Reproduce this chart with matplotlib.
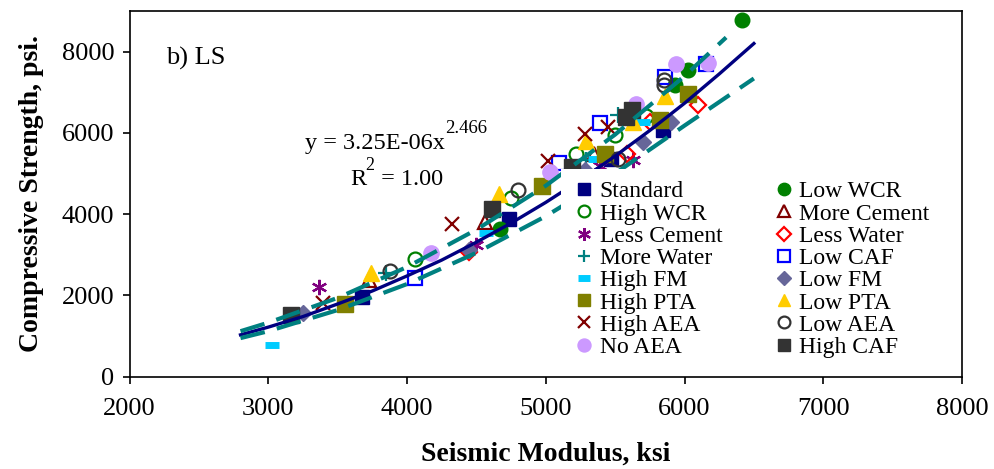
import matplotlib
matplotlib.use("Agg")
import matplotlib.pyplot as plt

plt.rcParams['font.family'] = ['Liberation Serif', 'DejaVu Serif']

# power-law fit and the dashed bounds
fit_x = [2800, 3000, 3250, 3500, 3750, 4000, 4250, 4500, 4750, 5000, 5250, 5500, 5750, 6000, 6250, 6500]
fit_y = [1030, 1220, 1480, 1790, 2110, 2480, 2870, 3310, 3780, 4290, 4840, 5430, 6060, 6730, 7450, 8200]
upper_x = [2800, 3000, 3500, 4000, 4500, 5000, 5500, 6000, 6300]
upper_y = [1120, 1330, 1940, 2700, 3620, 4700, 5960, 7400, 8350]
lower_x = [2800, 3000, 3500, 4000, 4500, 5000, 5500, 6000, 6500]
lower_y = [950, 1120, 1640, 2280, 3050, 3950, 5000, 6180, 7340]

# mixes (seismic modulus ksi, compressive strength psi)
standard_x = [3679, 4735, 5472, 5848]
standard_y = [1966, 3875, 5366, 6078]
low_wcr_x = [4673, 5935, 6023, 6412]
low_wcr_y = [3646, 7167, 7553, 8789]
high_wcr_x = [4056, 4747, 5220, 5496, 5719]
high_wcr_y = [2892, 4408, 5472, 5939, 6405]
more_cement_x = [3727, 4562, 5350]
more_cement_y = [2376, 3818, 5480]
less_cement_x = [3367, 4495, 5388, 5632]
less_cement_y = [2211, 3236, 5177, 5324]
less_water_x = [4447, 5584, 5748, 6100]
less_water_y = [3071, 5489, 6265, 6676]
more_water_x = [3850, 5292, 5519]
more_water_y = [2540, 5341, 6430]
low_caf_x = [4056, 5092, 5392, 5863, 6156]
low_caf_y = [2418, 5258, 6241, 7371, 7700]
high_fm_x = [3028, 4572, 5352, 5699]
high_fm_y = [779, 3548, 5349, 6265]
low_fm_x = [3251, 4447, 5280, 5699, 5904]
low_fm_y = [1572, 3130, 5079, 5774, 6265]
high_pta_x = [3552, 4975, 5424, 5825, 6023]
high_pta_y = [1779, 4685, 5472, 6324, 6963]
low_pta_x = [3739, 4660, 5292, 5627, 5863]
low_pta_y = [2541, 4506, 5799, 6265, 6897]
high_aea_x = [3391, 4327, 5015, 5280, 5447]
high_aea_y = [1818, 3769, 5307, 5980, 6143]
low_aea_x = [3881, 4800, 5519, 5851, 5851]
low_aea_y = [2597, 4604, 5349, 7167, 7307]
no_aea_x = [4171, 5033, 5652, 5940, 6167]
no_aea_y = [3047, 5037, 6717, 7700, 7715]
high_caf_x = [3163, 4615, 5191, 5575, 5623]
high_caf_y = [1516, 4120, 5160, 6388, 6553]

# name, x, y, marker, colour, filled, size, edge width
series = [
    ("Standard", standard_x, standard_y, 's', '#000080', True, 10, 1),
    ("Low WCR", low_wcr_x, low_wcr_y, 'o', '#008000', True, 10.5, 1),
    ("High WCR", high_wcr_x, high_wcr_y, 'o', '#008000', False, 10, 1.6),
    ("More Cement", more_cement_x, more_cement_y, '^', '#800000', False, 10, 1.6),
    ("Less Cement", less_cement_x, less_cement_y, (6, 2, 0), '#800080', False, 11, 1.6),
    ("Less Water", less_water_x, less_water_y, 'D', '#FF0000', False, 8, 1.6),
    ("More Water", more_water_x, more_water_y, '+', '#008080', False, 11, 1.6),
    ("Low CAF", low_caf_x, low_caf_y, 's', '#0000FF', False, 10, 1.6),
    ("High FM", high_fm_x, high_fm_y, '_', '#00CCFF', False, 10, 5),
    ("Low FM", low_fm_x, low_fm_y, 'D', '#666699', True, 8, 1),
    ("High PTA", high_pta_x, high_pta_y, 's', '#808000', True, 11, 1),
    ("Low PTA", low_pta_x, low_pta_y, '^', '#FFCC00', True, 11, 1),
    ("High AEA", high_aea_x, high_aea_y, 'x', '#800000', False, 10, 1.6),
    ("Low AEA", low_aea_x, low_aea_y, 'o', '#333333', False, 10, 1.6),
    ("No AEA", no_aea_x, no_aea_y, 'o', '#CC99FF', True, 11, 1),
    ("High CAF", high_caf_x, high_caf_y, 's', '#333333', True, 11, 1),
]

fig = plt.figure(figsize=(9.94, 4.69), dpi=100)
ax = fig.add_axes([0.1303, 0.1968, 0.8375, 0.7797])

handles = []
for name, xs, ys, mk, col, filled, ms, mew in series:
    h, = ax.plot(xs, ys, linestyle='none', marker=mk, markersize=ms,
                 markerfacecolor=col if filled else 'none',
                 markeredgecolor=col, markeredgewidth=mew, label=name, zorder=3)
    handles.append(h)

ax.plot(fit_x, fit_y, color='#000080', lw=2.4, zorder=4)
ax.plot(upper_x, upper_y, color='#008080', lw=3, dashes=(6, 3), zorder=4)
ax.plot(lower_x, lower_y, color='#008080', lw=3, dashes=(6, 3), zorder=4)

ax.set_xlim(2000, 8000)
ax.set_ylim(0, 9000)
ax.set_xticks(range(2000, 8001, 1000))
ax.set_yticks(range(0, 8001, 2000))
ax.tick_params(direction='out', length=5, width=1.2, labelsize=19)
ax.tick_params(axis='x', pad=10)
ax.tick_params(axis='y', pad=6)
for sp in ax.spines.values():
    sp.set_linewidth(1.2)

ax.set_xlabel("Seismic Modulus, ksi", fontsize=20, fontweight='bold', labelpad=16)
ax.set_ylabel("Compressive Strength, psi.", fontsize=20, fontweight='bold', labelpad=13)

ax.text(0.044, 0.87, "b) LS", transform=ax.transAxes, fontsize=19, va='center')
ax.text(0.211, 0.638, "y = 3.25E-06x", transform=ax.transAxes, fontsize=17.5, va='center')
ax.text(0.379, 0.680, "2.466", transform=ax.transAxes, fontsize=13.5, va='center')
ax.text(0.265, 0.538, "R", transform=ax.transAxes, fontsize=17.5, va='center')
ax.text(0.283, 0.578, "2", transform=ax.transAxes, fontsize=13, va='center')
ax.text(0.295, 0.538, " = 1.00", transform=ax.transAxes, fontsize=17.5, va='center')

# row-wise order like the original legend
order = handles[0::2] + handles[1::2]
leg = ax.legend(order, [h.get_label() for h in order], ncol=2, loc='upper left',
                bbox_to_anchor=(0.518, 0.568), fontsize=17, frameon=True,
                facecolor='white', edgecolor='none', framealpha=1, fancybox=False,
                borderpad=0.5, labelspacing=0.03, handlelength=1.0,
                handletextpad=0.15, columnspacing=2.1, markerscale=0.85,
                borderaxespad=0)
leg.set_zorder(10)

fig.savefig("out.png", dpi=100)
